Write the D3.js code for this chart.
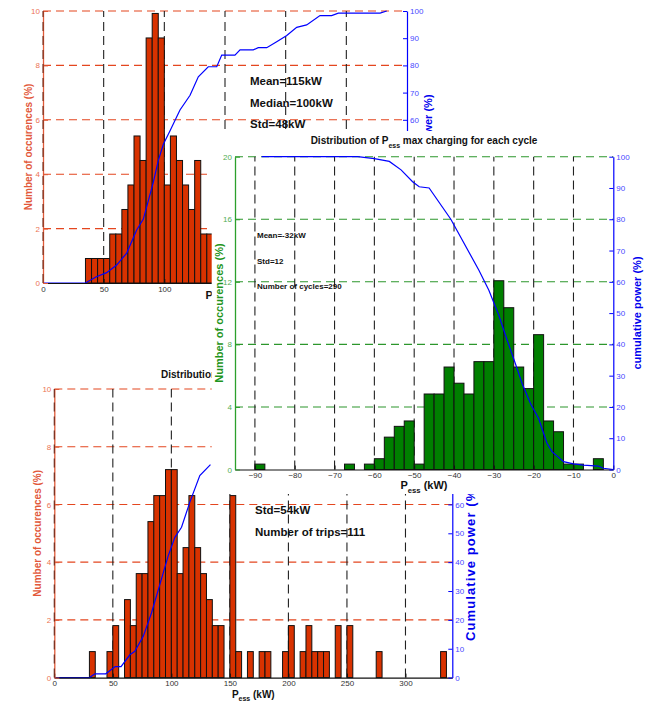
<!DOCTYPE html>
<html>
<head>
<meta charset="utf-8">
<script src="https://cdn.jsdelivr.net/npm/d3@7"></script>
<style>
  body { margin: 0; background: #fff; }
  svg { display: block; }
</style>
</head>
<body>
<svg id="fig" width="654" height="702"></svg>
<script>
// ---------------- data ----------------
// Upper-left histogram: peak power per trip, 5 kW bins (bin start in kW, number of trips)
const tripBinsA   = [35,40,45,50,55,60,65,70,75,80,85,90,95,100,105,110,115,120,125,130,135];
const tripCountsA = [1,1,1,1,2,2,3,4,6,5,10,11,10,4,6,5,4,3,5,2,2];
const tripTotalA  = 111;
// cumulative power curve (kW, %)
const cumKwA  = [0,35,44,52.5,60.7,69,77.2,82.7,90.9,95,99.2,104.7,112.9,121.2,128,136.2,143.2,147.3,158.2,162.4,173.3,177.4,184.4,192.6,200.9,209.1,217.3,228.3,237.9,243.4,277.8,283.3];
const cumPctA = [0,0,2.3,3.8,6.6,11,19.5,23.5,37,45,51,56,63.6,69,75.8,79.5,79.5,83.8,83.8,85.7,85.7,86.5,86.5,88.7,91,94,94.9,98.3,98.3,99.2,99.2,100];
const statsA  = ["Mean=115kW", "Median=100kW", "Std=48kW"];

// Middle histogram: max charging power per cycle, 2.5 kW bins
const cycleBinsB   = [-90,-87.5,-85,-82.5,-80,-77.5,-75,-72.5,-70,-67.5,-65,-62.5,-60,-57.5,-55,-52.5,-50,-47.5,-45,-42.5,-40,-37.5,-35,-32.5,-30,-27.5,-25,-22.5,-20,-17.5,-15,-12.5,-10,-7.5,-5,-2.5];
const cycleCountsB = [1,0,0,0,0,0,0,0,0,1,0,1,2,6,8,9,1,14,14,19,16,14,20,20,35,30,19,15,25,9,7,1,1,0,2,0];
const cycleTotalB  = 290;
const cumKwB  = [-88.3,-64.2,-60,-56.25,-53.3,-50.4,-48.75,-46.25,-40.8,-33.75,-31.25,-28.75,-26.65,-24.6,-22.9,-20.8,-18.75,-16.65,-15.4,-12.5,-10,-7.5,-3.75,-2.5,0];
const cumPctB = [100,100,99.4,98.5,95.8,92,90.4,90,80,63.7,57.3,49.3,41.3,33.9,27.5,21.1,16.3,8.4,5.7,2.5,1.8,1.4,1.1,0.4,0];
const statsB  = ["Mean=-32kW", "Std=12", "Number of cycles=290"];

// Lower histogram: peak power per trip, 5 kW bins
const tripBinsC   = [30,45,50,60,65,70,75,80,85,90,95,100,105,110,115,120,125,130,135,140,150,155,165,175,180,195,200,210,215,220,225,230,240,250,275,330];
const tripCountsC = [1,1,2,3,2,4,4,6,7,7,8,8,4,5,7,5,4,3,2,2,7,1,1,1,1,1,2,1,2,1,1,1,2,2,1,1];
const tripTotalC  = 111;
const cumKwC  = [0,30,34.7,44,52,57,64.6,68.8,76,83,90.2,97.3,103,108.7,115.8,124.3,133.4];
const cumPctC = [0,0,1.3,1.3,3.8,3.8,7.9,9.1,14.3,22.4,32.3,42.2,48.6,52.1,60.8,70,73.8];
const statsC  = ["Std=54kW", "Number of trips=111"];

// tick values
const xTicksA = [0,50,100,150,200,250,300];
const yTicksA = [0,2,4,6,8,10];
const xTicksB = [-90,-80,-70,-60,-50,-40,-30,-20,-10,0];
const yTicksB = [0,4,8,12,16,20];
const xTicksC = [0,50,100,150,200,250,300];
const yTicksC = [0,2,4,6,8,10];
const cumTicks = [0,10,20,30,40,50,60,70,80,90,100];

// ---------------- drawing ----------------
const FONT = '"Liberation Sans", Arial, Helvetica, sans-serif';
const svg = d3.select("#fig").attr("font-family", FONT);

// white figure area of the middle histogram, laid over the other two
const overlay = { x: 211.7, y: 131, w: 442.3, h: 363 };

function pessLabel(g, cx, cy, size) {
  const t = g.append("text").attr("x", cx).attr("y", cy)
    .attr("text-anchor", "middle").attr("font-weight", "bold")
    .attr("font-size", size).attr("fill", "#111");
  t.append("tspan").text("P");
  t.append("tspan").attr("font-size", size * 0.7).attr("dy", size * 0.35).text("ess");
  t.append("tspan").attr("dy", -size * 0.35).text(" (kW)");
}

function vLabel(g, x, y, text, color, anchor, size, spacing) {
  g.append("text").attr("transform", `translate(${x},${y}) rotate(-90)`)
    .attr("text-anchor", anchor).attr("font-weight", "bold")
    .attr("letter-spacing", spacing || 0)
    .attr("font-size", size).attr("fill", color).text(text);
}

function drawPanel(p) {
  const g = svg.append("g");
  const x  = d3.scaleLinear().domain(p.xDomain).range([p.left, p.right]);
  const y  = d3.scaleLinear().domain(p.yDomain).range([p.bottom, p.top]);
  const y2 = d3.scaleLinear().domain([0, 100]).range([p.bottom, p.top]);

  // dashed grid
  g.append("g").selectAll("line").data(p.hGrid).join("line")
    .attr("x1", p.left).attr("x2", p.right)
    .attr("y1", d => y(d)).attr("y2", d => y(d))
    .attr("stroke", p.gridColor).attr("stroke-width", 1.1)
    .attr("stroke-dasharray", "8,5");
  g.append("g").selectAll("line").data(p.vGrid).join("line")
    .attr("x1", d => x(d)).attr("x2", d => x(d))
    .attr("y1", p.bottom).attr("y2", p.top)
    .attr("stroke", "#222").attr("stroke-width", 1.1)
    .attr("stroke-dasharray", "9,5");

  // histogram bars (percent of total)
  const bars = p.bins.map((s, i) => ({ s, v: p.counts[i] / p.total * 100 }))
    .filter(d => d.v > 0);
  g.append("g").selectAll("rect").data(bars).join("rect")
    .attr("x", d => x(d.s)).attr("width", d => x(d.s + p.binWidth) - x(d.s))
    .attr("y", d => y(d.v)).attr("height", d => p.bottom - y(d.v))
    .attr("fill", p.barColor).attr("stroke", "#111").attr("stroke-width", 1);

  // cumulative power curve
  g.append("path").datum(p.cumKw.map((k, i) => [k, p.cumPct[i]]))
    .attr("d", d3.line().x(d => x(d[0])).y(d => y2(d[1])))
    .attr("fill", "none").attr("stroke", "#0000ff").attr("stroke-width", 1.2);

  // axes
  const ax = g.append("g").attr("transform", `translate(0,${p.bottom})`)
    .call(d3.axisBottom(x).tickValues(p.xTicks).tickSizeInner(-4).tickSizeOuter(0).tickPadding(3));
  ax.attr("font-family", FONT).attr("font-size", 8);
  ax.select(".domain").attr("stroke", "#111").attr("stroke-width", 1.2);
  ax.selectAll(".tick line").attr("stroke", "#111");
  ax.selectAll(".tick text").attr("fill", "#333");

  const ay = g.append("g").attr("transform", `translate(${p.left},0)`)
    .call(d3.axisLeft(y).tickValues(p.yTicks).tickSizeInner(-5).tickSizeOuter(0).tickPadding(3));
  ay.attr("font-family", FONT).attr("font-size", 8);
  ay.select(".domain").attr("stroke", p.axisColor).attr("stroke-width", 1.3);
  ay.selectAll(".tick line").attr("stroke", p.axisColor);
  ay.selectAll(".tick text").attr("fill", p.tickColor);

  const ar = g.append("g").attr("transform", `translate(${p.right},0)`)
    .call(d3.axisRight(y2).tickValues(cumTicks).tickSizeInner(-4).tickSizeOuter(0).tickPadding(3));
  ar.attr("font-family", FONT).attr("font-size", 8);
  ar.select(".domain").attr("stroke", "#0000ff").attr("stroke-width", 1.2);
  ar.selectAll(".tick line").attr("stroke", "#0000ff");
  ar.selectAll(".tick text").attr("fill", "#4747ff");

  // dashed marker drawn over the left axis
  if (p.edgeDash) {
    g.append("line").attr("x1", p.left).attr("x2", p.left)
      .attr("y1", p.bottom).attr("y2", p.top)
      .attr("stroke", "#5a1e10").attr("stroke-opacity", 0.75).attr("stroke-width", 1.3)
      .attr("stroke-dasharray", "9,5");
  }

  // statistics
  g.append("g").selectAll("text").data(p.stats).join("text")
    .attr("x", p.statX).attr("y", (d, i) => p.statY + i * p.statStep)
    .attr("font-size", p.statSize).attr("font-weight", "bold").attr("fill", "#111")
    .text(d => d);

  // axis titles
  pessLabel(g, p.xLabelX, p.xLabelY, p.xLabelSize);
  vLabel(g, p.yLabelX, (p.top + p.bottom) / 2, "Number of occurences (%)", p.labelColor, "middle", p.yLabelSize);
  vLabel(g, p.cumLabelX, p.cumLabelY, p.cumLabel, "#0000ee", p.cumAnchor, p.cumLabelSize, p.cumSpacing);
  return g;
}

// texts lying completely under the overlay cannot be seen, so they are dropped
function dropCovered(g) {
  g.selectAll("text").each(function () {
    const b = this.getBoundingClientRect();
    if (b.left >= overlay.x && b.right <= overlay.x + overlay.w &&
        b.top >= overlay.y && b.bottom <= overlay.y + overlay.h) {
      d3.select(this).remove();
    }
  });
}

// upper-left histogram
const gA = drawPanel({
  xDomain: [0, 300], yDomain: [0, 10], left: 43, right: 407, bottom: 283, top: 11,
  bins: tripBinsA, counts: tripCountsA, total: tripTotalA, binWidth: 5,
  cumKw: cumKwA, cumPct: cumPctA,
  xTicks: xTicksA, yTicks: yTicksA, hGrid: [2,4,6,8,10], vGrid: [50,100,150,200,250],
  barColor: "#d83200", gridColor: "#e4461f", axisColor: "#e05a38", tickColor: "#ec7355",
  labelColor: "#e2583a", edgeDash: true,
  stats: statsA, statX: 250, statY: 85, statStep: 21.7, statSize: 11.5,
  xLabelX: 229, xLabelY: 299, xLabelSize: 11, yLabelX: 32, yLabelSize: 10,
  cumLabel: "cumulative power (%)", cumLabelX: 432, cumLabelY: 151, cumAnchor: "middle", cumLabelSize: 11
});
dropCovered(gA);

// lower histogram
const gC = drawPanel({
  xDomain: [0, 340], yDomain: [0, 10], left: 54.3, right: 452.3, bottom: 677.6, top: 389,
  bins: tripBinsC, counts: tripCountsC, total: tripTotalC, binWidth: 5,
  cumKw: cumKwC, cumPct: cumPctC,
  xTicks: xTicksC, yTicks: yTicksC, hGrid: [2,4,6,8,10], vGrid: [50,100,150,200,250,300],
  barColor: "#d83200", gridColor: "#e4461f", axisColor: "#e05a38", tickColor: "#ec7355",
  labelColor: "#e2583a", edgeDash: true,
  stats: statsC, statX: 255, statY: 513.5, statStep: 22.5, statSize: 11.5,
  xLabelX: 253.3, xLabelY: 697.5, xLabelSize: 10, yLabelX: 41, yLabelSize: 10,
  cumLabel: "Cumulative power (%)", cumLabelX: 474.5, cumLabelY: 641, cumAnchor: "start",
  cumLabelSize: 13, cumSpacing: 1.1
});
gC.append("text").attr("x", 161).attr("y", 378).attr("font-size", 10)
  .attr("font-weight", "bold").attr("fill", "#111")
  .text("Distribution of Pess max discharging for each trip");
dropCovered(gC);

// middle histogram sits on its own white figure area
svg.append("rect").attr("x", overlay.x).attr("y", overlay.y)
  .attr("width", overlay.w).attr("height", overlay.h).attr("fill", "#fff");

const gB = drawPanel({
  xDomain: [-95, 0], yDomain: [0, 20], left: 235, right: 613.3, bottom: 469.5, top: 156.7,
  bins: cycleBinsB, counts: cycleCountsB, total: cycleTotalB, binWidth: 2.5,
  cumKw: cumKwB, cumPct: cumPctB,
  xTicks: xTicksB, yTicks: yTicksB, hGrid: [4,8,12,16,20], vGrid: [-90,-80,-70,-60,-50,-40,-30,-20,-10],
  barColor: "#007f00", gridColor: "#2c962c", axisColor: "#2ca02c", tickColor: "#52ad52",
  labelColor: "#1f9420", edgeDash: false,
  stats: statsB, statX: 257, statY: 238, statStep: 25.5, statSize: 8,
  xLabelX: 424, xLabelY: 489, xLabelSize: 11, yLabelX: 222.5, yLabelSize: 11,
  cumLabel: "cumulative power (%)", cumLabelX: 641, cumLabelY: 313, cumAnchor: "middle", cumLabelSize: 11
});
const tB = gB.append("text").attr("x", 424).attr("y", 144).attr("text-anchor", "middle")
  .attr("font-size", 10).attr("font-weight", "bold").attr("fill", "#111");
tB.append("tspan").text("Distribution of P");
tB.append("tspan").attr("font-size", 7).attr("dy", 3.5).text("ess");
tB.append("tspan").attr("dy", -3.5).text(" max charging for each cycle");
</script>
</body>
</html>
